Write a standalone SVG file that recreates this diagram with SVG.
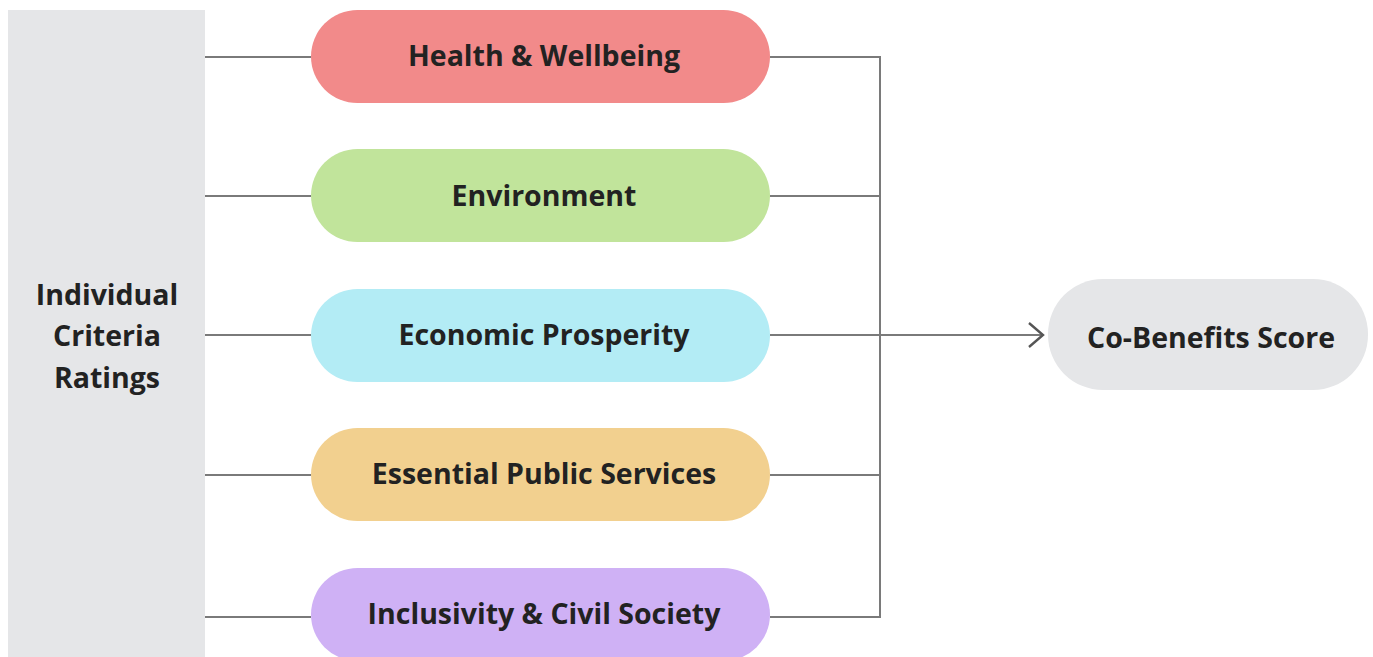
<svg xmlns="http://www.w3.org/2000/svg" width="1373" height="657" viewBox="0 0 1373 657">
<defs>
<style>
.t{font-family:"Open Sans","Noto Sans","Liberation Sans",sans-serif;font-weight:700;font-size:28.5px;fill:#222;text-anchor:middle;dominant-baseline:central}
.c{fill:none;stroke:#7a7a7a;stroke-width:2}
</style>
<marker id="arr" markerWidth="20" markerHeight="28" refX="16" refY="14" orient="auto" markerUnits="userSpaceOnUse">
<path d="M2,2 L16,14 L2,26" fill="none" stroke="#555" stroke-width="2.4"/>
</marker>
</defs>
<rect width="1373" height="657" fill="#fff"/>
<g id="criteria">
<rect x="8" y="10" width="197" height="650" fill="#e5e6e8"/>
<text class="t" x="107" y="294">Individual</text>
<text class="t" x="107" y="335">Criteria</text>
<text class="t" x="107" y="377">Ratings</text>
</g>
<g id="connectors">
<path class="c" d="M205,57H311M205,196H311M205,335H311M205,475H311M205,617H311"/>
<path class="c" d="M770,57H880M770,196H880M770,475H880M770,617H880M880,56V618"/>
<path class="c" d="M770,335H1043" marker-end="url(#arr)"/>
</g>
<g id="health"><rect x="311" y="10" width="459" height="93" rx="46.5" fill="#f28a8a"/><text class="t" x="544" y="55">Health &amp; Wellbeing</text></g>
<g id="environment"><rect x="311" y="149" width="459" height="93" rx="46.5" fill="#c1e49b"/><text class="t" x="544" y="195">Environment</text></g>
<g id="economic"><rect x="311" y="289" width="459" height="93" rx="46.5" fill="#b3ecf5"/><text class="t" x="544" y="334">Economic Prosperity</text></g>
<g id="services"><rect x="311" y="428" width="459" height="93" rx="46.5" fill="#f2d08f"/><text class="t" x="544" y="473">Essential Public Services</text></g>
<g id="inclusivity"><rect x="311" y="568" width="459" height="93" rx="46.5" fill="#cfb1f5"/><text class="t" x="544" y="613">Inclusivity &amp; Civil Society</text></g>
<g id="score"><rect x="1048" y="279" width="320" height="111" rx="55" fill="#e5e6e8"/><text class="t" x="1211" y="337">Co-Benefits Score</text></g>
</svg>
